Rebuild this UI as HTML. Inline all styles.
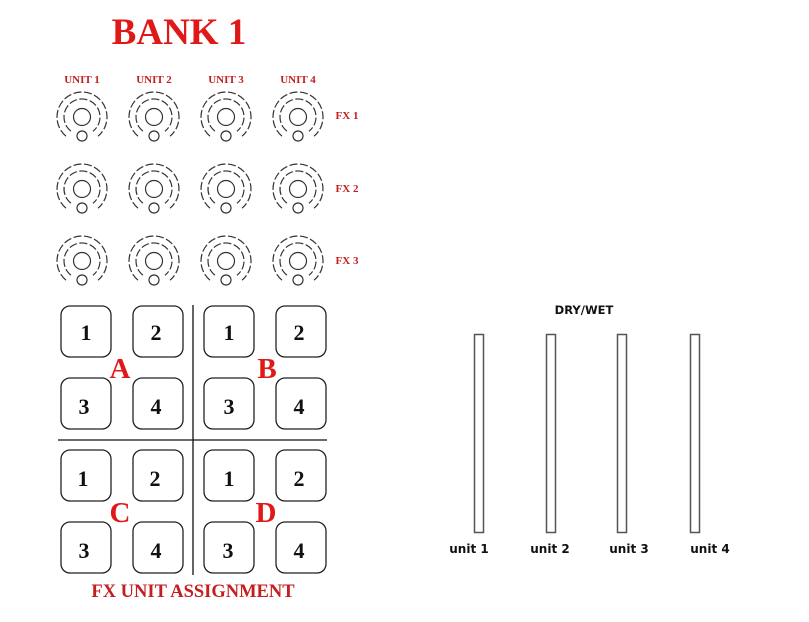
<!DOCTYPE html>
<html><head><meta charset="utf-8"><style>
html,body{margin:0;padding:0;background:#fff;}
svg{display:block}
</style></head><body>
<svg width="809" height="622" xmlns="http://www.w3.org/2000/svg">
<defs>
<g id="k" fill="none" stroke="#333" stroke-width="1.2">
<circle r="8.5"/><circle cy="19" r="5"/>
<path d="M-11,14.2 A18,18 0 1 1 11,14.2" stroke-dasharray="8 2.5"/>
<path d="M-16,19.2 A25,25 0 1 1 16,19.2" stroke-dasharray="8 2.5"/>
</g>
</defs>
<rect width="809" height="622" fill="#fff"/>
<text x="179" y="44" text-anchor="middle" font-family="Liberation Serif, serif" font-weight="bold" font-size="37" fill="#e01818">BANK 1</text>
<g font-family="Liberation Serif, serif" font-weight="bold" font-size="11" fill="#c41e1e" text-anchor="middle">
<text x="82" y="83">UNIT 1</text><text x="154" y="83">UNIT 2</text><text x="226" y="83">UNIT 3</text><text x="298" y="83">UNIT 4</text>
<text x="347" y="119">FX 1</text><text x="347" y="192">FX 2</text><text x="347" y="264">FX 3</text>
</g>
<use href="#k" x="82" y="117"/><use href="#k" x="154" y="117"/><use href="#k" x="226" y="117"/><use href="#k" x="298" y="117"/>
<use href="#k" x="82" y="189"/><use href="#k" x="154" y="189"/><use href="#k" x="226" y="189"/><use href="#k" x="298" y="189"/>
<use href="#k" x="82" y="261"/><use href="#k" x="154" y="261"/><use href="#k" x="226" y="261"/><use href="#k" x="298" y="261"/>
<g fill="#fff" stroke="#222" stroke-width="1.3">
<rect x="61" y="306" width="50" height="51" rx="9"/><rect x="133" y="306" width="50" height="51" rx="9"/><rect x="204" y="306" width="50" height="51" rx="9"/><rect x="276" y="306" width="50" height="51" rx="9"/>
<rect x="61" y="378" width="50" height="51" rx="9"/><rect x="133" y="378" width="50" height="51" rx="9"/><rect x="204" y="378" width="50" height="51" rx="9"/><rect x="276" y="378" width="50" height="51" rx="9"/>
<rect x="61" y="450" width="50" height="51" rx="9"/><rect x="133" y="450" width="50" height="51" rx="9"/><rect x="204" y="450" width="50" height="51" rx="9"/><rect x="276" y="450" width="50" height="51" rx="9"/>
<rect x="61" y="522" width="50" height="51" rx="9"/><rect x="133" y="522" width="50" height="51" rx="9"/><rect x="204" y="522" width="50" height="51" rx="9"/><rect x="276" y="522" width="50" height="51" rx="9"/>
</g>
<g stroke="#111" stroke-width="1.3"><line x1="193" y1="305" x2="193" y2="575"/><line x1="58" y1="440" x2="327" y2="440"/></g>
<g font-family="Liberation Serif, serif" font-weight="bold" font-size="22" fill="#111" text-anchor="middle">
<text x="86" y="340">1</text><text x="156" y="340">2</text><text x="229" y="340">1</text><text x="299" y="340">2</text>
<text x="84" y="414">3</text><text x="156" y="414">4</text><text x="229" y="414">3</text><text x="299" y="414">4</text>
<text x="83" y="486">1</text><text x="155" y="486">2</text><text x="229" y="486">1</text><text x="299" y="486">2</text>
<text x="84" y="558">3</text><text x="156" y="558">4</text><text x="228" y="558">3</text><text x="299" y="558">4</text>
</g>
<g font-family="Liberation Serif, serif" font-weight="bold" font-size="29" fill="#e01818" text-anchor="middle">
<text x="120" y="378">A</text><text x="267" y="378">B</text><text x="120" y="522">C</text><text x="266" y="522">D</text>
</g>
<text x="193" y="597" text-anchor="middle" font-family="Liberation Serif, serif" font-weight="bold" font-size="18.5" fill="#c41e1e">FX UNIT ASSIGNMENT</text>
<text x="584" y="314" text-anchor="middle" font-family="DejaVu Sans, sans-serif" font-weight="bold" font-size="11.5" fill="#111">DRY/WET</text>
<g fill="#fff" stroke="#555" stroke-width="1.5">
<rect x="474.5" y="334.5" width="9" height="198"/><rect x="546.5" y="334.5" width="9" height="198"/><rect x="617.5" y="334.5" width="9" height="198"/><rect x="690.5" y="334.5" width="9" height="198"/>
</g>
<g font-family="DejaVu Sans, sans-serif" font-weight="bold" font-size="12" fill="#111" text-anchor="middle">
<text x="469" y="553">unit 1</text><text x="550" y="553">unit 2</text><text x="629" y="553">unit 3</text><text x="710" y="553">unit 4</text>
</g>
</svg>
</body></html>
